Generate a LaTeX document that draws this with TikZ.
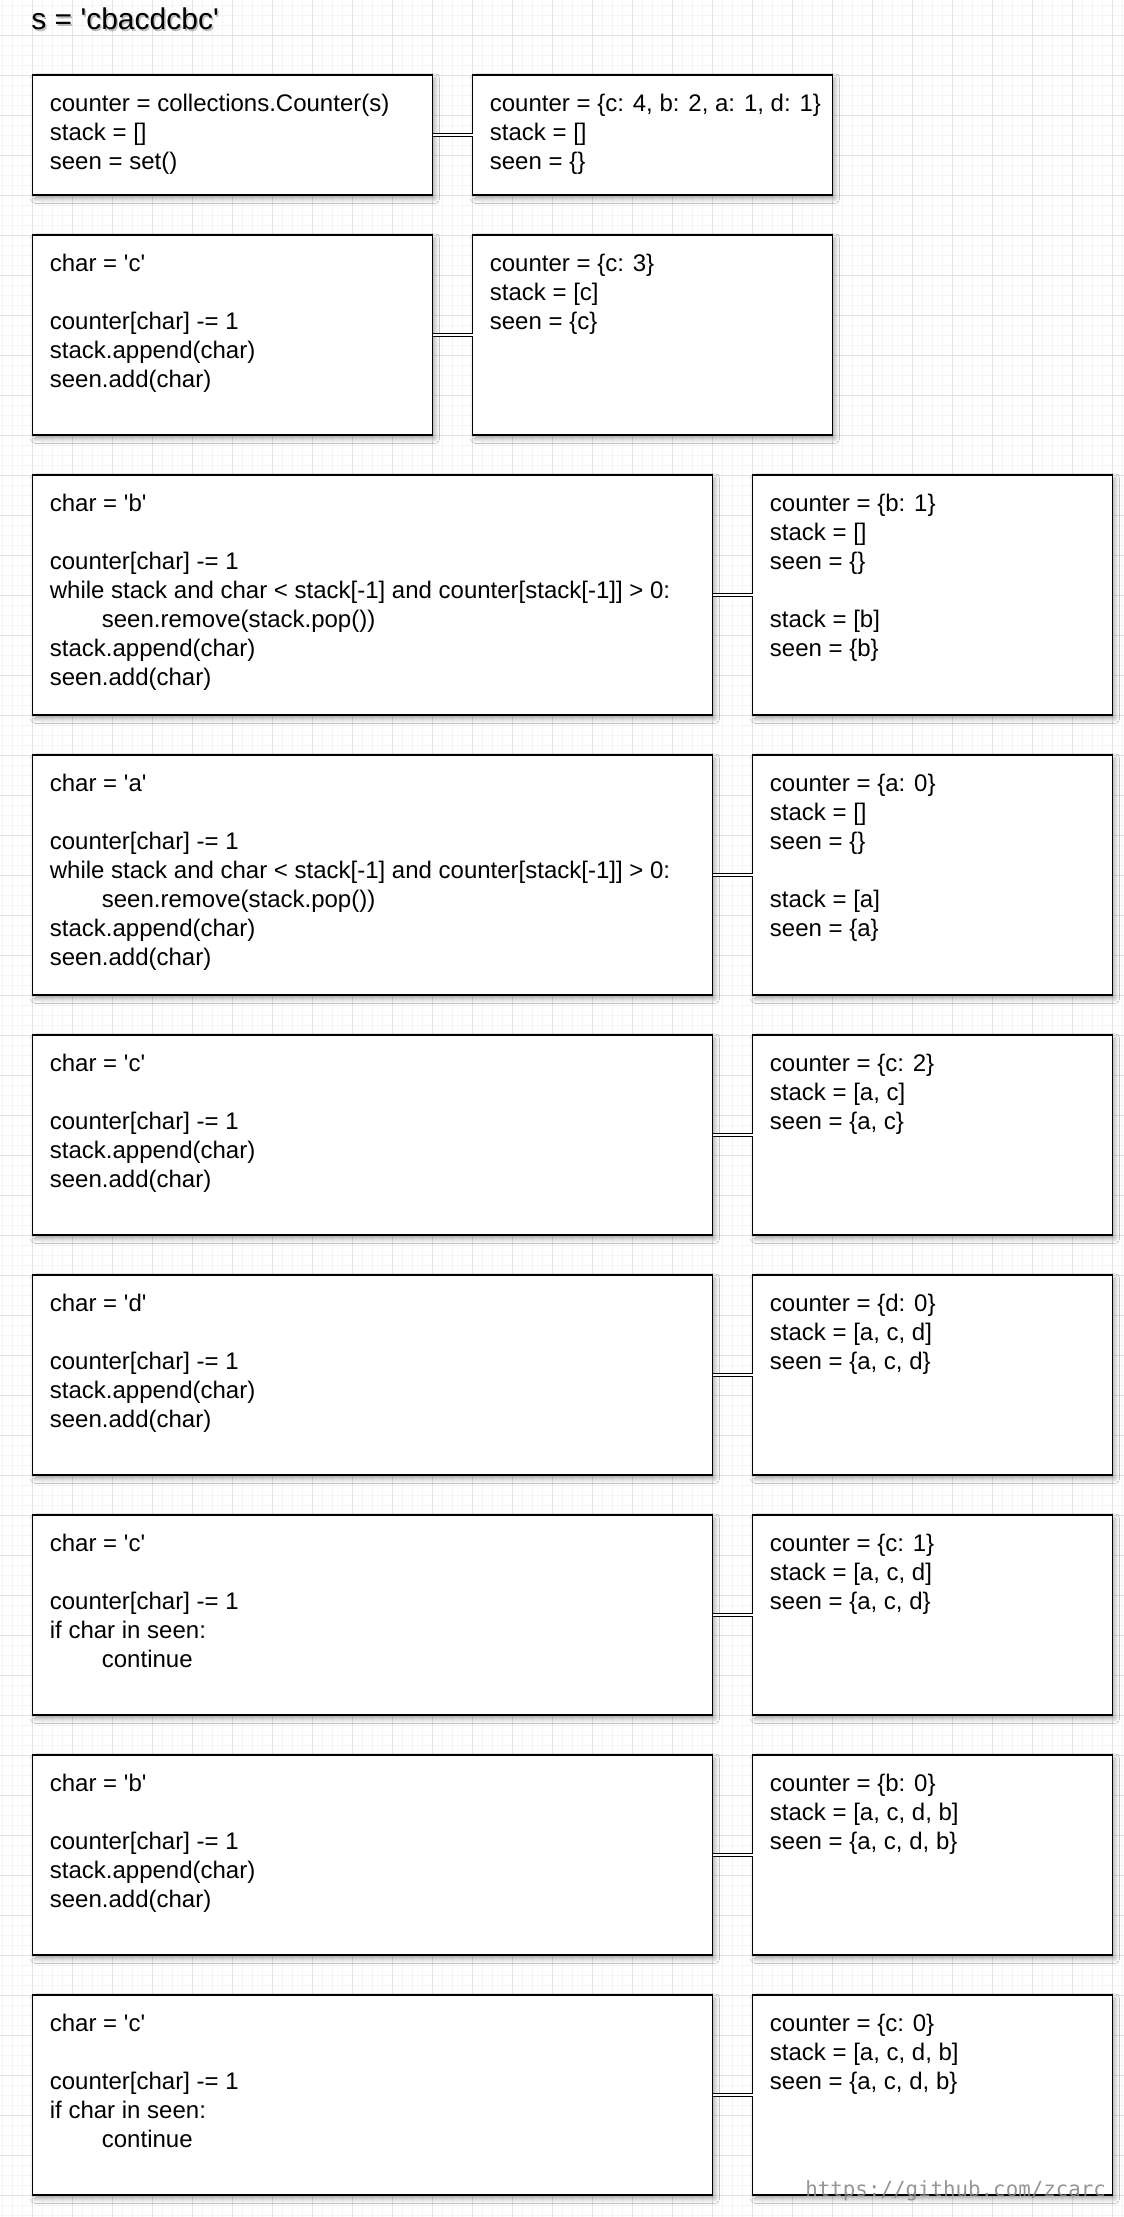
\documentclass[tikz,border=0pt]{standalone}
\usepackage{fontspec}
\setmainfont{Liberation Sans}
\newfontfamily\markfont{DejaVu Sans Mono}
\usetikzlibrary{shadows.blur}
\definecolor{gridminor}{RGB}{244,244,247}
\definecolor{gridmajor}{RGB}{226,226,231}
\definecolor{markgray}{RGB}{138,138,138}
\newcommand{\q}{\textquotesingle}
\newcommand{\ind}{\hspace*{26pt}}
\newcommand{\firstln}{\rule{0pt}{10pt}}

\begin{document}
\begin{tikzpicture}[x=0.5pt,y=-0.5pt,
  panel/.style={rectangle, draw=black, line width=0.7pt, fill=white,
    inner sep=0pt, outer sep=0pt, anchor=north west,
    blur shadow={shadow xshift=1.2pt, shadow yshift=-1.8pt,
      shadow blur radius=2.4pt, shadow opacity=36}},
  narrow/.style={minimum width=200pt},
  wide/.style={minimum width=340pt},
  result/.style={minimum width=180pt},
  short/.style={minimum height=60pt},
  mid/.style={minimum height=100pt},
  tall/.style={minimum height=120pt},
  code/.style={anchor=north west, align=left, inner sep=0pt,
    font=\fontsize{12pt}{14.5pt}\selectfont},
  link/.style={draw=black, line width=0.5pt, double=white, double distance=1.2pt}]

% page and background grid
\useasboundingbox (0,0) rectangle (1124,2217);
\fill[white] (0,0) rectangle (1124,2217);
\begin{scope}
\clip (0,0) rectangle (1124,2217);
\foreach \x in {2.5,12.5,...,1122.5}
  \draw[gridminor, line width=0.5pt] (\x,0) -- (\x,2217);
\foreach \y in {5,15,...,2215}
  \draw[gridminor, line width=0.5pt] (0,\y) -- (1124,\y);
\foreach \x in {-7.5,32.5,...,1112.5}
  \draw[gridmajor, line width=0.5pt] (\x,0) -- (\x,2217);
\foreach \y in {-5,35,...,2195}
  \draw[gridmajor, line width=0.5pt] (0,\y) -- (1124,\y);
\end{scope}

% title with its soft shadow
\node[anchor=base west, inner sep=0pt, font=\fontsize{15pt}{18pt}\selectfont,
  text=black, opacity=0.25] (titleshade) at (32.5,31) {s = \q cbacdcbc\q};
\node[anchor=base west, inner sep=0pt, font=\fontsize{15pt}{18pt}\selectfont]
  (title) at (31,29) {s = \q cbacdcbc\q};

% row 1: initialisation
\node[panel, narrow, short] (L1) at (32.5,75) {};
\node[panel, result, short] (R1) at (472.5,75) {};
\node[code] (tL1) at (49.5,91) {\firstln counter = collections.Counter(s)\\stack = []\\seen = set()};
\node[code] (tR1) at (489.5,91) {\firstln counter = \{c: 4, b: 2, a: 1, d: 1\}\\stack = []\\seen = \{\}};
\draw[link] (L1.east) -- (R1.west);

% row 2: char = 'c'
\node[panel, narrow, mid] (L2) at (32.5,235) {};
\node[panel, result, mid] (R2) at (472.5,235) {};
\node[code] (tL2) at (49.5,251) {\firstln char = \q c\q\\\mbox{}\\counter[char] -= 1\\stack.append(char)\\seen.add(char)};
\node[code] (tR2) at (489.5,251) {\firstln counter = \{c: 3\}\\stack = [c]\\seen = \{c\}};
\draw[link] (L2.east) -- (R2.west);

% row 3: char = 'b'
\node[panel, wide, tall] (L3) at (32.5,475) {};
\node[panel, result, tall] (R3) at (752.5,475) {};
\node[code] (tL3) at (49.5,491) {\firstln char = \q b\q\\\mbox{}\\counter[char] -= 1\\while stack and char < stack[-1] and counter[stack[-1]] > 0:\\\ind seen.remove(stack.pop())\\stack.append(char)\\seen.add(char)};
\node[code] (tR3) at (769.5,491) {\firstln counter = \{b: 1\}\\stack = []\\seen = \{\}\\\mbox{}\\stack = [b]\\seen = \{b\}};
\draw[link] (L3.east) -- (R3.west);

% row 4: char = 'a'
\node[panel, wide, tall] (L4) at (32.5,755) {};
\node[panel, result, tall] (R4) at (752.5,755) {};
\node[code] (tL4) at (49.5,771) {\firstln char = \q a\q\\\mbox{}\\counter[char] -= 1\\while stack and char < stack[-1] and counter[stack[-1]] > 0:\\\ind seen.remove(stack.pop())\\stack.append(char)\\seen.add(char)};
\node[code] (tR4) at (769.5,771) {\firstln counter = \{a: 0\}\\stack = []\\seen = \{\}\\\mbox{}\\stack = [a]\\seen = \{a\}};
\draw[link] (L4.east) -- (R4.west);

% row 5: char = 'c'
\node[panel, wide, mid] (L5) at (32.5,1035) {};
\node[panel, result, mid] (R5) at (752.5,1035) {};
\node[code] (tL5) at (49.5,1051) {\firstln char = \q c\q\\\mbox{}\\counter[char] -= 1\\stack.append(char)\\seen.add(char)};
\node[code] (tR5) at (769.5,1051) {\firstln counter = \{c: 2\}\\stack = [a, c]\\seen = \{a, c\}};
\draw[link] (L5.east) -- (R5.west);

% row 6: char = 'd'
\node[panel, wide, mid] (L6) at (32.5,1275) {};
\node[panel, result, mid] (R6) at (752.5,1275) {};
\node[code] (tL6) at (49.5,1291) {\firstln char = \q d\q\\\mbox{}\\counter[char] -= 1\\stack.append(char)\\seen.add(char)};
\node[code] (tR6) at (769.5,1291) {\firstln counter = \{d: 0\}\\stack = [a, c, d]\\seen = \{a, c, d\}};
\draw[link] (L6.east) -- (R6.west);

% row 7: char = 'c' (already seen)
\node[panel, wide, mid] (L7) at (32.5,1515) {};
\node[panel, result, mid] (R7) at (752.5,1515) {};
\node[code] (tL7) at (49.5,1531) {\firstln char = \q c\q\\\mbox{}\\counter[char] -= 1\\if char in seen:\\\ind continue};
\node[code] (tR7) at (769.5,1531) {\firstln counter = \{c: 1\}\\stack = [a, c, d]\\seen = \{a, c, d\}};
\draw[link] (L7.east) -- (R7.west);

% row 8: char = 'b'
\node[panel, wide, mid] (L8) at (32.5,1755) {};
\node[panel, result, mid] (R8) at (752.5,1755) {};
\node[code] (tL8) at (49.5,1771) {\firstln char = \q b\q\\\mbox{}\\counter[char] -= 1\\stack.append(char)\\seen.add(char)};
\node[code] (tR8) at (769.5,1771) {\firstln counter = \{b: 0\}\\stack = [a, c, d, b]\\seen = \{a, c, d, b\}};
\draw[link] (L8.east) -- (R8.west);

% row 9: char = 'c' (already seen)
\node[panel, wide, mid] (L9) at (32.5,1995) {};
\node[panel, result, mid] (R9) at (752.5,1995) {};
\node[code] (tL9) at (49.5,2011) {\firstln char = \q c\q\\\mbox{}\\counter[char] -= 1\\if char in seen:\\\ind continue};
\node[code] (tR9) at (769.5,2011) {\firstln counter = \{c: 0\}\\stack = [a, c, d, b]\\seen = \{a, c, d, b\}};
\draw[link] (L9.east) -- (R9.west);

% author mark
\node[anchor=base west, inner sep=0pt, text=markgray, opacity=0.9,
  font=\markfont\fontsize{10.4pt}{12pt}\selectfont] (mark) at (805,2196) {https://github.com/zcarc};
\end{tikzpicture}
\end{document}
